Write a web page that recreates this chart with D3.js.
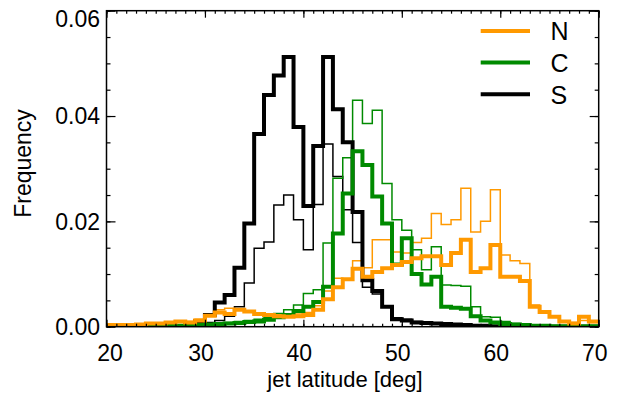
<!DOCTYPE html>
<html>
<head>
<meta charset="utf-8">
<script src="https://cdn.jsdelivr.net/npm/d3@7"></script>
<style>
  body { margin: 0; background: #fff; }
  svg { display: block; }
  text { font-family: "Liberation Sans", Arial, Helvetica, sans-serif; fill: #000; }
</style>
</head>
<body>
<svg id="chart" width="625" height="393"></svg>
<script>
// Histogram bins: left edge of each 1-degree latitude bin
const binStarts = [20,21,22,23,24,25,26,27,28,29,30,31,32,33,34,35,36,37,38,39,
                   40,41,42,43,44,45,46,47,48,49,50,51,52,53,54,55,56,57,58,59,
                   60,61,62,63,64,65,66,67,68,69];
const binEnd = 70;

// Frequency per bin, thick (bold) and thin outlines for each sector
const northThick = [0.0003,0.0003,0.0003,0.0004,0.0006,0.0006,0.0008,0.0010,0.0008,0.0012,
                    0.0021,0.0027,0.0024,0.0032,0.0029,0.0024,0.0022,0.0020,0.0019,0.0020,
                    0.0022,0.0032,0.0052,0.0075,0.0090,0.0110,0.0095,0.0104,0.0111,0.0117,
                    0.0123,0.0130,0.0134,0.0134,0.0117,0.0140,0.0165,0.0104,0.0111,0.0155,
                    0.0095,0.0095,0.0087,0.0038,0.0028,0.0019,0.0010,0.0006,0.0019,0.0010];
const northThin  = [0.0002,0.0003,0.0003,0.0004,0.0005,0.0007,0.0008,0.0009,0.0010,0.0014,
                    0.0022,0.0032,0.0035,0.0033,0.0030,0.0026,0.0024,0.0022,0.0022,0.0024,
                    0.0027,0.0040,0.0068,0.0092,0.0090,0.0125,0.0112,0.0165,0.0165,0.0142,
                    0.0140,0.0160,0.0168,0.0215,0.0194,0.0203,0.0263,0.0180,0.0200,0.0260,
                    0.0136,0.0125,0.0120,0.0041,0.0026,0.0020,0.0010,0.0008,0.0012,0.0008];
const centralThick = [0,0,0,0.0001,0.0001,0.0002,0.0002,0.0002,0.0003,0.0003,
                      0.0004,0.0005,0.0006,0.0007,0.0009,0.0010,0.0013,0.0018,0.0022,0.0030,
                      0.0038,0.0047,0.0076,0.0177,0.0253,0.0333,0.0307,0.0247,0.0196,0.0118,
                      0.0168,0.0100,0.0080,0.0095,0.0038,0.0036,0.0034,0.0020,0.0012,0.0008,
                      0.0005,0.0004,0.0003,0.0002,0.0002,0.0001,0.0001,0.0001,0.0001,0.0001];
const centralThin  = [0,0,0,0.0001,0.0001,0.0002,0.0002,0.0003,0.0003,0.0004,
                      0.0005,0.0006,0.0008,0.0010,0.0012,0.0014,0.0018,0.0025,0.0032,0.0041,
                      0.0063,0.0070,0.0159,0.0282,0.0321,0.0430,0.0386,0.0411,0.0272,0.0203,
                      0.0183,0.0146,0.0108,0.0152,0.0079,0.0078,0.0077,0.0038,0.0019,0.0018,
                      0.0010,0.0006,0.0004,0.0003,0.0002,0.0002,0.0001,0.0001,0.0001,0.0001];
const southThick = [0,0,0,0,0,0,0,0.0001,0.0004,0.0011,
                    0.0022,0.0046,0.0060,0.0112,0.0196,0.0366,0.0440,0.0477,0.0512,0.0379,
                    0.0229,0.0343,0.0512,0.0413,0.0350,0.0218,0.0088,0.0068,0.0038,0.0014,
                    0.0012,0.0008,0.0007,0.0006,0.0005,0.0004,0.0003,0.0002,0.0002,0.0001,
                    0,0,0,0,0,0,0,0,0,0];
const southThin  = [0,0,0,0,0,0,0,0.0001,0.0002,0.0004,
                    0.0008,0.0012,0.0020,0.0038,0.0083,0.0149,0.0161,0.0231,0.0250,0.0203,
                    0.0146,0.0232,0.0347,0.0285,0.0222,0.0160,0.0075,0.0062,0.0040,0.0017,
                    0.0014,0.0010,0.0008,0.0006,0.0005,0.0004,0.0003,0.0002,0.0001,0.0001,
                    0,0,0,0,0,0,0,0,0,0];

const xTickValues = [20,30,40,50,60,70];
const yTickValues = [0.00,0.02,0.04,0.06];
const legendLabels = ["N","C","S"];
const xTitle = "jet latitude [deg]";
const yTitle = "Frequency";

const colors = { N: "#ff9900", C: "#008a00", S: "#000000" };

const plot = { left: 106.5, right: 598.7, top: 10.7, bottom: 326.7 };

const svg = d3.select("#chart");

const x = d3.scaleLinear().domain([20, 70]).range([plot.left, plot.right]);
const y = d3.scaleLinear().domain([0, 0.06]).range([plot.bottom, plot.top]);

// Clip the histograms to the plotting frame
svg.append("defs").append("clipPath").attr("id", "plotClip")
  .append("rect")
  .attr("x", plot.left).attr("y", plot.top)
  .attr("width", plot.right - plot.left).attr("height", plot.bottom - plot.top);

// Step outline of one histogram
const step = d3.line()
  .x(d => x(d[0]))
  .y(d => y(d[1]))
  .curve(d3.curveStepAfter);

function histPoints(values) {
  const pts = binStarts.map((b, i) => [b, values[i]]);
  pts.push([binEnd, values[values.length - 1]]);
  return pts;
}

const series = [
  { values: southThin,   color: colors.S, width: 1.5 },
  { values: centralThin, color: colors.C, width: 1.5 },
  { values: northThin,   color: colors.N, width: 1.5 },
  { values: southThick,  color: colors.S, width: 4 },
  { values: centralThick,color: colors.C, width: 4 },
  { values: northThick,  color: colors.N, width: 4 }
];

const hist = svg.append("g").attr("clip-path", "url(#plotClip)");
hist.selectAll("path")
  .data(series)
  .join("path")
  .attr("d", d => step(histPoints(d.values)))
  .attr("fill", "none")
  .attr("stroke", d => d.color)
  .attr("stroke-width", d => d.width)
  .attr("stroke-linejoin", "miter")
  .attr("stroke-linecap", "butt");

// Axes: ticks point inward on all four sides
const xMinor = d3.range(20, 71, 1);
const yMinor = d3.range(0, 0.0601, 0.005);

function styleAxis(g) {
  g.select(".domain").remove();
  g.selectAll("text").remove();
  g.selectAll("line").attr("stroke", "#000").attr("stroke-width", 1.2);
}

svg.append("g").attr("transform", `translate(0,${plot.bottom})`)
  .call(d3.axisBottom(x).tickValues(xMinor).tickSize(-3)).call(styleAxis);
svg.append("g").attr("transform", `translate(0,${plot.bottom})`)
  .call(d3.axisBottom(x).tickValues(xTickValues).tickSize(-7)).call(styleAxis);
svg.append("g").attr("transform", `translate(0,${plot.top})`)
  .call(d3.axisTop(x).tickValues(xMinor).tickSize(-3)).call(styleAxis);
svg.append("g").attr("transform", `translate(0,${plot.top})`)
  .call(d3.axisTop(x).tickValues(xTickValues).tickSize(-7)).call(styleAxis);

svg.append("g").attr("transform", `translate(${plot.left},0)`)
  .call(d3.axisLeft(y).tickValues(yMinor).tickSize(-4)).call(styleAxis);
svg.append("g").attr("transform", `translate(${plot.left},0)`)
  .call(d3.axisLeft(y).tickValues(yTickValues).tickSize(-9)).call(styleAxis);
svg.append("g").attr("transform", `translate(${plot.right},0)`)
  .call(d3.axisRight(y).tickValues(yMinor).tickSize(-4)).call(styleAxis);
svg.append("g").attr("transform", `translate(${plot.right},0)`)
  .call(d3.axisRight(y).tickValues(yTickValues).tickSize(-9)).call(styleAxis);

// Frame
svg.append("rect")
  .attr("x", plot.left).attr("y", plot.top)
  .attr("width", plot.right - plot.left).attr("height", plot.bottom - plot.top)
  .attr("fill", "none").attr("stroke", "#000").attr("stroke-width", 1.5);

// Tick labels
svg.append("g").selectAll("text")
  .data(xTickValues)
  .join("text")
  .attr("x", (d, i) => x(d) + (i === 0 ? 3.5 : -4))
  .attr("y", 361)
  .attr("text-anchor", "middle")
  .attr("font-size", 23)
  .text(d => d);

svg.append("g").selectAll("text")
  .data(yTickValues)
  .join("text")
  .attr("x", 100)
  .attr("y", d => Math.max(y(d), 18.3) + 8.3)
  .attr("text-anchor", "end")
  .attr("font-size", 23)
  .text(d => d3.format(".2f")(d));

// Axis titles
svg.append("text")
  .attr("x", 345).attr("y", 386.5)
  .attr("text-anchor", "middle")
  .attr("font-size", 22)
  .text(xTitle);

svg.append("text")
  .attr("transform", "translate(31,163.5) rotate(-90)")
  .attr("text-anchor", "middle")
  .attr("font-size", 23)
  .text(yTitle);

// Legend
const legendRows = [31, 62.5, 94.3];
const legend = svg.append("g");
legendLabels.forEach((lab, i) => {
  legend.append("line")
    .attr("x1", 480.7).attr("x2", 530)
    .attr("y1", legendRows[i]).attr("y2", legendRows[i])
    .attr("stroke", colors[lab]).attr("stroke-width", 4);
  legend.append("text")
    .attr("x", 550.5).attr("y", legendRows[i] + 9.3)
    .attr("font-size", 25)
    .text(lab);
});
</script>
</body>
</html>
